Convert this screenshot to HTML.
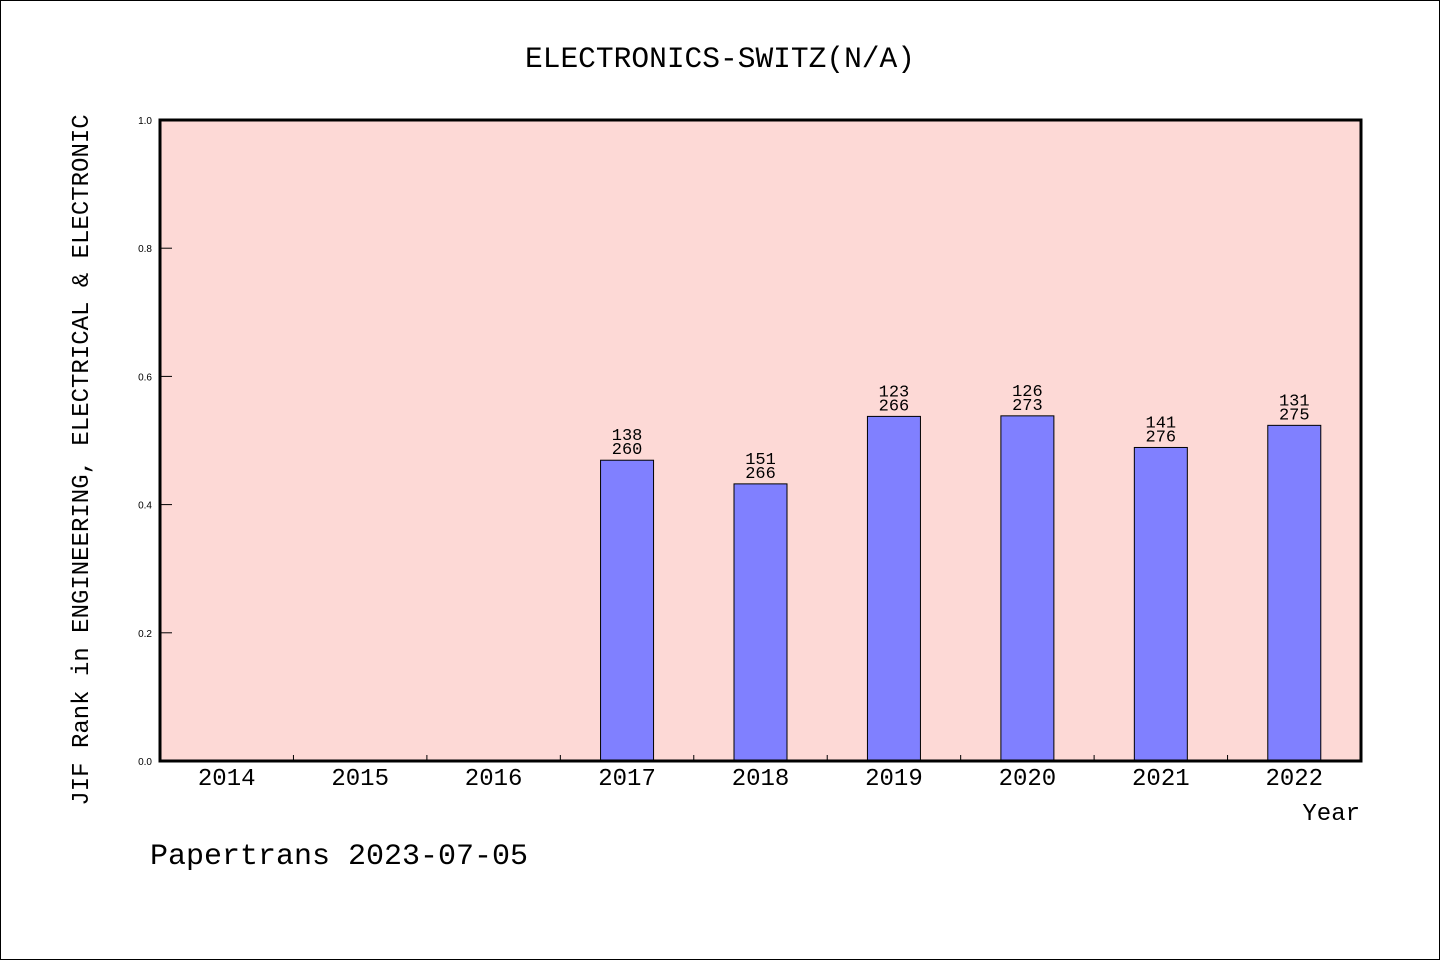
<!DOCTYPE html>
<html><head><meta charset="utf-8"><style>
html,body{margin:0;padding:0;background:#fff}
svg{display:block}
text{font-family:"WenQuanYi Zen Hei","Liberation Mono",monospace;fill:#000}
</style></head><body>
<svg width="1440" height="960" viewBox="0 0 1440 960">
<rect x="0.5" y="0.5" width="1439" height="959" fill="#fff" stroke="#000"/>
<text x="720" y="67" font-size="30" text-anchor="middle" textLength="390" lengthAdjust="spacingAndGlyphs">ELECTRONICS-SWITZ(N/A)</text>
<rect x="160" y="120" width="1201" height="641" fill="#fdd9d6"/>
<g id="yaxis"></g><g id="bars"></g><g id="xaxis"></g>
<rect x="160" y="120" width="1201" height="641" fill="none" stroke="#000" stroke-width="3"/>
<text transform="translate(88,460) rotate(-90)" font-size="24" text-anchor="middle">JIF Rank in ENGINEERING, ELECTRICAL &amp; ELECTRONIC</text>
<text x="1360" y="820" font-size="24" text-anchor="end">Year</text>
<text x="150" y="864" font-size="30">Papertrans 2023-07-05</text>
</svg>
<script>
const years=["2014","2015","2016","2017","2018","2019","2020","2021","2022"];
const ranks=[null,null,null,138,151,123,126,141,131];
const totals=[null,null,null,260,266,266,273,276,275];
const yTicks=[0,0.2,0.4,0.6,0.8,1.0];
const NS="http://www.w3.org/2000/svg";
const x0=160,x1=1361,y0=761,y1=120;
const bw=(x1-x0)/years.length;
const X=i=>x0+bw*(i+0.5);
const Y=v=>y0-(y0-y1)*v;
function mk(t,a,p){const e=document.createElementNS(NS,t);for(const k in a)e.setAttribute(k,a[k]);p.appendChild(e);return e;}
const ya=document.getElementById('yaxis'),bg=document.getElementById('bars'),xa=document.getElementById('xaxis');
yTicks.forEach(v=>{
 const l=mk('line',{x1:160,x2:172,y1:Y(v),y2:Y(v),stroke:'#000'},ya);
 
 
 const t=mk('text',{x:152,y:Y(v)+4,'font-size':10,'text-anchor':'end','style':'font-family:"Liberation Sans",sans-serif'},ya);
 t.textContent=v.toFixed(1);
 
 
});
years.forEach((yr,i)=>{
 if(i>0){const l=mk('line',{x1:x0+bw*i,x2:x0+bw*i,y1:y0-6,y2:y0,stroke:'#000'},xa);
 
 }
 const t=mk('text',{x:X(i),y:785,'font-size':24,'text-anchor':'middle'},xa);
 t.textContent=yr;
 
 
 if(ranks[i]==null)return;
 const v=1-ranks[i]/totals[i];
 const r=mk('rect',{x:X(i)-26.5,y:Y(v),width:53,height:y0-Y(v),fill:'#8080ff',stroke:'#000','stroke-width':1},bg);
 
 
 const a=mk('text',{x:X(i),y:Y(v)-20,'font-size':17,'text-anchor':'middle'},bg);
 a.textContent=ranks[i];
 
 
 const b=mk('text',{x:X(i),y:Y(v)-6,'font-size':17,'text-anchor':'middle'},bg);
 b.textContent=totals[i];
 
 
});
</script>
</body></html>
